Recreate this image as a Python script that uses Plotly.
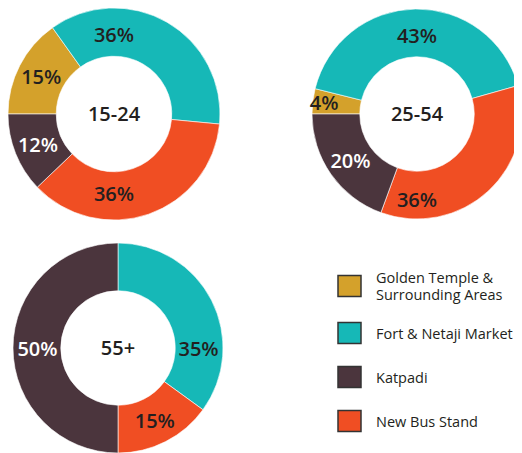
import plotly.graph_objects as go

# areas, in the order they go clockwise round each ring
areas = ["Golden Temple & Surrounding Areas", "Fort & Netaji Market", "New Bus Stand", "Katpadi"]
colors = ["#D4A12B", "#16B8B7", "#F04E23", "#4B353D"]
text_colors = ["#231F20", "#231F20", "#231F20", "#FFFFFF"]

ages = ["15-24", "25-54", "55+"]
share_15_24 = [15, 36, 36, 12]
share_25_54 = [4, 43, 36, 20]
share_55_plus = [0, 35, 15, 50]

# legend (its own order), each entry as its lines
legend_labels = [["Golden Temple &", "Surrounding Areas"], ["Fort & Netaji Market"], ["Katpadi"], ["New Bus Stand"]]
legend_colors = ["#D4A12B", "#16B8B7", "#4B353D", "#F04E23"]

# the page puts the plot 8px in from the window corner
W, H = 514, 445
FONT = "Open Sans"
DARK = "#231F20"

# pie positions in pixels: (left, right, bottom, top) from the bottom left corner
boxes = [(0, 212, 233, 445), (304, 514, 233, 445), (5, 215, 0, 210)]
starts = [270, 270, 0]
values = [share_15_24, share_25_54, share_55_plus]

fig = go.Figure()
for age, vals, box, rot in zip(ages, values, boxes, starts):
    fig.add_trace(go.Pie(
        labels=areas,
        values=vals,
        sort=False,
        direction="clockwise",
        rotation=rot,
        hole=0.545,
        marker=dict(colors=colors, line=dict(color="white", width=0.6)),
        texttemplate=["%{value}%" if v > 0 else "" for v in vals],
        textinfo="text",
        textposition="inside",
        insidetextorientation="horizontal",
        insidetextfont=dict(family=FONT, size=20, weight=600, color=text_colors),
        title=dict(text=age, position="middle center",
                   font=dict(family=FONT, size=20, weight=600, color=DARK)),
        domain=dict(x=[box[0] / W, box[1] / W], y=[box[2] / H, box[3] / H]),
        showlegend=False,
        hoverinfo="label+value",
    ))

# hand drawn legend: boxes with a dark edge (y from the top)
row_y = [278, 325, 369, 413]
line_gap = 16
for lines, col, y in zip(legend_labels, legend_colors, row_y):
    fig.add_shape(type="rect", xref="paper", yref="paper",
                  x0=330 / W, x1=353 / W, y0=(H - y - 10.5) / H, y1=(H - y + 10.5) / H,
                  fillcolor=col, line=dict(color="#333333", width=1.5))
    first = y - line_gap * (len(lines) - 1) / 2
    for k, txt in enumerate(lines):
        fig.add_annotation(xref="paper", yref="paper", x=366 / W, y=(H - first - k * line_gap) / H,
                           text=txt, showarrow=False, xanchor="left", yanchor="middle",
                           align="left", font=dict(family=FONT, size=14.5, color=DARK))

fig.update_layout(
    width=W, height=H,
    margin=dict(l=0, r=0, t=0, b=0),
    paper_bgcolor="white",
    plot_bgcolor="white",
    uniformtext=dict(minsize=20, mode="show"),
)

fig.write_html("out.html")
